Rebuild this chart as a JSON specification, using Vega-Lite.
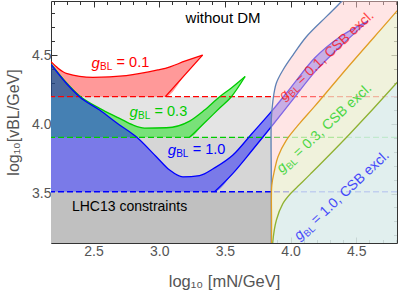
{
  "$schema": "https://vega.github.io/schema/vega-lite/v6.json",
  "width": 346,
  "height": 242,
  "autosize": {"type": "none"},
  "padding": {"left": 51, "top": 1, "right": 1, "bottom": 49},
  "config": {"font": "Liberation Sans", "view": {"stroke": "#333", "strokeWidth": 1}},
  "datasets": {
    "lhc": [
      {"g": "0.1", "y": 4.199, "x0": 2.0, "x1": 3.853, "y0": 3.0},
      {"g": "0.3", "y": 3.906, "x0": 2.0, "x1": 3.853, "y0": 3.0},
      {"g": "1.0", "y": 3.513, "x0": 2.0, "x1": 3.853, "y0": 3.0}
    ],
    "gr": [
      {"g": "0.1", "x": 2.176, "top": 4.452, "bot": 4.199},
      {"g": "0.1", "x": 2.23, "top": 4.405, "bot": 4.199},
      {"g": "0.1", "x": 2.292, "top": 4.368, "bot": 4.199},
      {"g": "0.1", "x": 2.495, "top": 4.339, "bot": 4.199},
      {"g": "0.1", "x": 2.749, "top": 4.352, "bot": 4.199},
      {"g": "0.1", "x": 2.99, "top": 4.392, "bot": 4.199},
      {"g": "0.1", "x": 3.046, "top": 4.404, "bot": 4.199},
      {"g": "0.1", "x": 3.2, "top": 4.457, "bot": 4.362},
      {"g": "0.1", "x": 3.33, "top": 4.5, "bot": 4.5},
      {"g": "0.3", "x": 2.176, "top": 4.436, "bot": 3.906},
      {"g": "0.3", "x": 2.292, "top": 4.302, "bot": 3.906},
      {"g": "0.3", "x": 2.393, "top": 4.206, "bot": 3.906},
      {"g": "0.3", "x": 2.546, "top": 4.115, "bot": 3.906},
      {"g": "0.3", "x": 2.698, "top": 4.043, "bot": 3.906},
      {"g": "0.3", "x": 2.799, "top": 3.995, "bot": 3.906},
      {"g": "0.3", "x": 2.888, "top": 3.973, "bot": 3.906},
      {"g": "0.3", "x": 3.054, "top": 3.975, "bot": 3.906},
      {"g": "0.3", "x": 3.231, "top": 4.023, "bot": 3.906},
      {"g": "0.3", "x": 3.345, "top": 4.103, "bot": 4.011},
      {"g": "0.3", "x": 3.46, "top": 4.199, "bot": 4.117},
      {"g": "0.3", "x": 3.549, "top": 4.262, "bot": 4.199},
      {"g": "0.3", "x": 3.654, "top": 4.345, "bot": 4.345},
      {"g": "1.0", "x": 2.176, "top": 4.432, "bot": 3.513},
      {"g": "1.0", "x": 2.292, "top": 4.296, "bot": 3.513},
      {"g": "1.0", "x": 2.393, "top": 4.199, "bot": 3.513},
      {"g": "1.0", "x": 2.546, "top": 4.103, "bot": 3.513},
      {"g": "1.0", "x": 2.698, "top": 3.995, "bot": 3.513},
      {"g": "1.0", "x": 2.825, "top": 3.91, "bot": 3.513},
      {"g": "1.0", "x": 2.978, "top": 3.766, "bot": 3.513},
      {"g": "1.0", "x": 3.079, "top": 3.67, "bot": 3.513},
      {"g": "1.0", "x": 3.18, "top": 3.621, "bot": 3.513},
      {"g": "1.0", "x": 3.307, "top": 3.63, "bot": 3.513},
      {"g": "1.0", "x": 3.421, "top": 3.685, "bot": 3.513},
      {"g": "1.0", "x": 3.561, "top": 3.778, "bot": 3.646},
      {"g": "1.0", "x": 3.703, "top": 3.93, "bot": 3.807},
      {"g": "1.0", "x": 3.853, "top": 4.091, "bot": 3.982},
      {"g": "1.0", "x": 4.0, "top": 4.263, "bot": 4.158},
      {"g": "1.0", "x": 4.183, "top": 4.478, "bot": 4.377},
      {"g": "1.0", "x": 4.374, "top": 4.63, "bot": 4.558},
      {"g": "1.0", "x": 4.589, "top": 4.745, "bot": 4.745}
    ],
    "csb": [
      {"c": "s", "y": 3.0, "x": 3.853, "xr": 4.9},
      {"c": "s", "y": 3.6, "x": 3.853, "xr": 4.9},
      {"c": "s", "y": 4.031, "x": 3.853, "xr": 4.9},
      {"c": "s", "y": 4.175, "x": 3.866, "xr": 4.9},
      {"c": "s", "y": 4.296, "x": 3.891, "xr": 4.9},
      {"c": "s", "y": 4.392, "x": 3.942, "xr": 4.9},
      {"c": "s", "y": 4.5, "x": 4.018, "xr": 4.9},
      {"c": "s", "y": 4.632, "x": 4.12, "xr": 4.9},
      {"c": "s", "y": 4.777, "x": 4.272, "xr": 4.9},
      {"c": "s", "y": 4.885, "x": 4.386, "xr": 4.9},
      {"c": "s", "y": 4.95, "x": 4.45, "xr": 4.9},
      {"c": "o", "y": 3.0, "x": 3.855, "xr": 4.9},
      {"c": "o", "y": 3.3, "x": 3.855, "xr": 4.9},
      {"c": "o", "y": 3.561, "x": 3.857, "xr": 4.9},
      {"c": "o", "y": 3.67, "x": 3.878, "xr": 4.9},
      {"c": "o", "y": 3.766, "x": 3.904, "xr": 4.9},
      {"c": "o", "y": 3.886, "x": 3.968, "xr": 4.9},
      {"c": "o", "y": 4.007, "x": 4.069, "xr": 4.9},
      {"c": "o", "y": 4.127, "x": 4.181, "xr": 4.9},
      {"c": "o", "y": 4.428, "x": 4.45, "xr": 4.9},
      {"c": "o", "y": 4.813, "x": 4.805, "xr": 4.9},
      {"c": "o", "y": 4.9, "x": 4.88, "xr": 4.9},
      {"c": "v", "y": 3.0, "x": 3.862, "xr": 4.9},
      {"c": "v", "y": 3.145, "x": 3.864, "xr": 4.9},
      {"c": "v", "y": 3.309, "x": 3.892, "xr": 4.9},
      {"c": "v", "y": 3.429, "x": 3.942, "xr": 4.9},
      {"c": "v", "y": 3.5, "x": 4.0, "xr": 4.9},
      {"c": "v", "y": 3.565, "x": 4.07, "xr": 4.9},
      {"c": "v", "y": 3.64, "x": 4.15, "xr": 4.9},
      {"c": "v", "y": 3.93, "x": 4.45, "xr": 4.9},
      {"c": "v", "y": 4.296, "x": 4.805, "xr": 4.9},
      {"c": "v", "y": 4.4, "x": 4.9, "xr": 4.9}
    ],
    "notes": [
      {"x": 3.486, "y": 4.767, "t": "without DM", "s": "a"},
      {"x": 2.774, "y": 3.405, "t": "LHC13 constraints", "s": "b"}
    ],
    "glab": [
      {"g": "0.1", "x": 2.485, "y": 4.442, "val": "= 0.1"},
      {"g": "0.3", "x": 2.774, "y": 4.091, "val": "= 0.3"},
      {"g": "1.0", "x": 3.064, "y": 3.814, "val": "= 1.0"}
    ],
    "csbl": [
      {"g": "0.1", "x": 3.93, "y": 4.19, "val": "= 0.1, CSB excl."},
      {"g": "0.3", "x": 3.912, "y": 3.665, "val": "= 0.3, CSB excl."},
      {"g": "1.0", "x": 4.046, "y": 3.18, "val": "= 1.0, CSB excl."}
    ]
  },
  "layer": [
    {
      "data": {"name": "lhc"},
      "mark": {"type": "rect", "clip": true},
      "encoding": {
        "x": {"field": "x0", "type": "quantitative", "scale": {"domain": [2.176, 4.81], "nice": false, "zero": false},
          "axis": {"orient": "bottom", "values": [2.2,2.3,2.4,2.5,2.6,2.7,2.8,2.9,3.0,3.1,3.2,3.3,3.4,3.5,3.6,3.7,3.8,3.9,4.0,4.1,4.2,4.3,4.4,4.5,4.6,4.7,4.8],
            "labelExpr": "round(datum.value*10)%5==0 ? format(datum.value,'.1f') : ''",
            "tickSize": {"condition": {"test": "round(datum.value*10)%5==0", "value": -6}, "value": -3.5},
            "tickColor": "#333", "domain": false, "grid": false, "labelColor": "#555", "labelFontSize": 14, "labelPadding": 7,
            "labelOverlap": false, "labelFlush": false, "title": "log₁₀ [mN/GeV]", "titleFontSize": 16.5, "titleFontWeight": "normal", "titleColor": "#555", "titlePadding": 13}},
        "x2": {"field": "x1"},
        "y": {"field": "y0", "type": "quantitative", "scale": {"domain": [3.143, 4.89], "nice": false, "zero": false},
          "axis": {"orient": "left", "values": [3.2,3.3,3.4,3.5,3.6,3.7,3.8,3.9,4.0,4.1,4.2,4.3,4.4,4.5,4.6,4.7,4.8],
            "labelExpr": "round(datum.value*10)%5==0 ? format(datum.value,'.1f') : ''",
            "tickSize": {"condition": {"test": "round(datum.value*10)%5==0", "value": -6}, "value": -3.5},
            "tickColor": "#333", "domain": false, "grid": false, "labelColor": "#555", "labelFontSize": 14, "labelPadding": 6,
            "labelOverlap": false, "labelFlush": false, "title": "log₁₀[vBL/GeV]", "titleFontSize": 16, "titleFontWeight": "normal", "titleColor": "#555", "titlePadding": 10}},
        "y2": {"field": "y"},
        "fill": {"field": "g", "type": "nominal", "scale": {"domain": ["0.1", "0.3", "1.0"], "range": ["#e4e4e4", "#d6d6d6", "#c0c0c0"]}, "legend": null}
      }
    },
    {
      "data": {"name": "gr"},
      "transform": [{"filter": "datum.g=='0.1'"}],
      "mark": {"type": "area", "color": "#ff0000", "fillOpacity": 0.4, "clip": true, "interpolate": "monotone"},
      "encoding": {
        "x": {"field": "x", "type": "quantitative", "scale": {"domain": [2.176, 4.81], "nice": false, "zero": false}, "axis": null},
        "y": {"field": "top", "type": "quantitative", "scale": {"domain": [3.143, 4.89], "nice": false, "zero": false}, "axis": null},
        "y2": {"field": "bot"}
      }
    },
    {
      "data": {"name": "gr"},
      "transform": [{"filter": "datum.g=='0.3'"}],
      "mark": {"type": "area", "color": "#00dd00", "fillOpacity": 0.47, "clip": true, "interpolate": "monotone"},
      "encoding": {
        "x": {"field": "x", "type": "quantitative", "scale": {"domain": [2.176, 4.81], "nice": false, "zero": false}, "axis": null},
        "y": {"field": "top", "type": "quantitative", "scale": {"domain": [3.143, 4.89], "nice": false, "zero": false}, "axis": null},
        "y2": {"field": "bot"}
      }
    },
    {
      "data": {"name": "gr"},
      "transform": [{"filter": "datum.g=='1.0'"}],
      "mark": {"type": "area", "color": "#0000ff", "fillOpacity": 0.43, "clip": true, "interpolate": "monotone"},
      "encoding": {
        "x": {"field": "x", "type": "quantitative", "scale": {"domain": [2.176, 4.81], "nice": false, "zero": false}, "axis": null},
        "y": {"field": "top", "type": "quantitative", "scale": {"domain": [3.143, 4.89], "nice": false, "zero": false}, "axis": null},
        "y2": {"field": "bot"}
      }
    },
    {
      "data": {"name": "lhc"},
      "mark": {"type": "rule", "strokeDash": [6, 3], "strokeWidth": 1.3},
      "encoding": {
        "y": {"field": "y", "type": "quantitative", "scale": {"domain": [3.143, 4.89], "nice": false, "zero": false}, "axis": null},
        "color": {"field": "g", "type": "nominal", "scale": {"domain": ["0.1", "0.3", "1.0"], "range": ["#ff0000", "#00cc00", "#0000ff"]}, "legend": null}
      }
    },
    {
      "data": {"name": "gr"},
      "mark": {"type": "line", "strokeWidth": 1.3, "clip": true, "interpolate": "monotone"},
      "encoding": {
        "x": {"field": "x", "type": "quantitative", "scale": {"domain": [2.176, 4.81], "nice": false, "zero": false}, "axis": null},
        "y": {"field": "top", "type": "quantitative", "scale": {"domain": [3.143, 4.89], "nice": false, "zero": false}, "axis": null},
        "color": {"field": "g", "type": "nominal", "scale": {"domain": ["0.1", "0.3", "1.0"], "range": ["#ff0000", "#00cc00", "#0000ff"]}, "legend": null}
      }
    },
    {
      "data": {"name": "gr"},
      "transform": [{"filter": "(datum.g=='0.1' && datum.x>=3.046) || (datum.g=='0.3' && datum.x>=3.231) || (datum.g=='1.0' && datum.x>=3.421)"}],
      "mark": {"type": "line", "strokeWidth": 1.3, "clip": true, "interpolate": "monotone"},
      "encoding": {
        "x": {"field": "x", "type": "quantitative", "scale": {"domain": [2.176, 4.81], "nice": false, "zero": false}, "axis": null},
        "y": {"field": "bot", "type": "quantitative", "scale": {"domain": [3.143, 4.89], "nice": false, "zero": false}, "axis": null},
        "color": {"field": "g", "type": "nominal", "scale": {"domain": ["0.1", "0.3", "1.0"], "range": ["#ff0000", "#00cc00", "#0000ff"]}, "legend": null}
      }
    },
    {
      "data": {"name": "csb"},
      "transform": [{"filter": "datum.c=='s'"}],
      "mark": {"type": "area", "orient": "horizontal", "color": "#ffcccc", "fillOpacity": 0.5, "clip": true, "interpolate": "catmull-rom"},
      "encoding": {
        "y": {"field": "y", "type": "quantitative", "scale": {"domain": [3.143, 4.89], "nice": false, "zero": false}, "axis": null},
        "x": {"field": "x", "type": "quantitative", "scale": {"domain": [2.176, 4.81], "nice": false, "zero": false}, "axis": null},
        "x2": {"field": "xr"}
      }
    },
    {
      "data": {"name": "csb"},
      "transform": [{"filter": "datum.c=='o'"}],
      "mark": {"type": "area", "orient": "horizontal", "color": "#e1ffd4", "fillOpacity": 0.5, "clip": true, "interpolate": "catmull-rom"},
      "encoding": {
        "y": {"field": "y", "type": "quantitative", "scale": {"domain": [3.143, 4.89], "nice": false, "zero": false}, "axis": null},
        "x": {"field": "x", "type": "quantitative", "scale": {"domain": [2.176, 4.81], "nice": false, "zero": false}, "axis": null},
        "x2": {"field": "xr"}
      }
    },
    {
      "data": {"name": "csb"},
      "transform": [{"filter": "datum.c=='v'"}],
      "mark": {"type": "area", "orient": "horizontal", "color": "#d2ebff", "fillOpacity": 0.5, "clip": true, "interpolate": "catmull-rom"},
      "encoding": {
        "y": {"field": "y", "type": "quantitative", "scale": {"domain": [3.143, 4.89], "nice": false, "zero": false}, "axis": null},
        "x": {"field": "x", "type": "quantitative", "scale": {"domain": [2.176, 4.81], "nice": false, "zero": false}, "axis": null},
        "x2": {"field": "xr"}
      }
    },
    {
      "data": {"name": "csb"},
      "mark": {"type": "line", "strokeWidth": 1.3, "clip": true, "interpolate": "catmull-rom"},
      "encoding": {
        "x": {"field": "x", "type": "quantitative", "scale": {"domain": [2.176, 4.81], "nice": false, "zero": false}, "axis": null},
        "y": {"field": "y", "type": "quantitative", "scale": {"domain": [3.143, 4.89], "nice": false, "zero": false}, "axis": null},
        "order": {"field": "y", "type": "quantitative"},
        "stroke": {"field": "c", "type": "nominal", "scale": {"domain": ["s", "o", "v"], "range": ["#5e81b5", "#e19c24", "#8fb131"]}, "legend": null}
      }
    },
    {
      "data": {"name": "notes"},
      "mark": {"type": "text", "color": "#000", "align": "center", "baseline": "middle"},
      "encoding": {
        "x": {"field": "x", "type": "quantitative", "scale": {"domain": [2.176, 4.81], "nice": false, "zero": false},
          "axis": {"orient": "top", "values": [2.2,2.3,2.4,2.5,2.6,2.7,2.8,2.9,3.0,3.1,3.2,3.3,3.4,3.5,3.6,3.7,3.8,3.9,4.0,4.1,4.2,4.3,4.4,4.5,4.6,4.7,4.8],
            "labels": false, "tickSize": {"condition": {"test": "round(datum.value*10)%5==0", "value": -6}, "value": -3.5},
            "tickColor": "#333", "domain": false, "grid": false, "title": null}},
        "y": {"field": "y", "type": "quantitative", "scale": {"domain": [3.143, 4.89], "nice": false, "zero": false},
          "axis": {"orient": "right", "values": [3.2,3.3,3.4,3.5,3.6,3.7,3.8,3.9,4.0,4.1,4.2,4.3,4.4,4.5,4.6,4.7,4.8],
            "labels": false, "tickSize": {"condition": {"test": "round(datum.value*10)%5==0", "value": -6}, "value": -3.5},
            "tickColor": "#333", "domain": false, "grid": false, "title": null}},
        "size": {"field": "s", "type": "nominal", "scale": {"domain": ["a", "b"], "range": [15, 14]}, "legend": null},
        "text": {"field": "t"}
      }
    },
    {
      "data": {"name": "glab"},
      "mark": {"type": "text", "fontSize": 15, "fontStyle": "italic", "align": "left", "baseline": "middle", "text": "g"},
      "encoding": {
        "x": {"field": "x", "type": "quantitative", "scale": {"domain": [2.176, 4.81], "nice": false, "zero": false}, "axis": null},
        "y": {"field": "y", "type": "quantitative", "scale": {"domain": [3.143, 4.89], "nice": false, "zero": false}, "axis": null},
        "color": {"field": "g", "type": "nominal", "scale": {"domain": ["0.1", "0.3", "1.0"], "range": ["#ff0000", "#00cc00", "#0000ff"]}, "legend": null}
      }
    },
    {
      "data": {"name": "glab"},
      "mark": {"type": "text", "fontSize": 10, "align": "left", "baseline": "middle", "text": "BL", "dx": 8.5, "dy": 4},
      "encoding": {
        "x": {"field": "x", "type": "quantitative", "scale": {"domain": [2.176, 4.81], "nice": false, "zero": false}, "axis": null},
        "y": {"field": "y", "type": "quantitative", "scale": {"domain": [3.143, 4.89], "nice": false, "zero": false}, "axis": null},
        "color": {"field": "g", "type": "nominal", "scale": {"domain": ["0.1", "0.3", "1.0"], "range": ["#ff0000", "#00cc00", "#0000ff"]}, "legend": null}
      }
    },
    {
      "data": {"name": "glab"},
      "mark": {"type": "text", "fontSize": 14.5, "align": "left", "baseline": "middle", "dx": 25},
      "encoding": {
        "x": {"field": "x", "type": "quantitative", "scale": {"domain": [2.176, 4.81], "nice": false, "zero": false}, "axis": null},
        "y": {"field": "y", "type": "quantitative", "scale": {"domain": [3.143, 4.89], "nice": false, "zero": false}, "axis": null},
        "text": {"field": "val"},
        "color": {"field": "g", "type": "nominal", "scale": {"domain": ["0.1", "0.3", "1.0"], "range": ["#ff0000", "#00cc00", "#0000ff"]}, "legend": null}
      }
    },
    {
      "data": {"name": "csbl"},
      "mark": {"type": "text", "fontSize": 14, "fontStyle": "italic", "align": "left", "baseline": "middle", "text": "g", "angle": -43, "opacity": 0.7},
      "encoding": {
        "x": {"field": "x", "type": "quantitative", "scale": {"domain": [2.176, 4.81], "nice": false, "zero": false}, "axis": null},
        "y": {"field": "y", "type": "quantitative", "scale": {"domain": [3.143, 4.89], "nice": false, "zero": false}, "axis": null},
        "color": {"field": "g", "type": "nominal", "scale": {"domain": ["0.1", "0.3", "1.0"], "range": ["#ff0000", "#00cc00", "#0000ff"]}, "legend": null}
      }
    },
    {
      "data": {"name": "csbl"},
      "mark": {"type": "text", "fontSize": 9.5, "align": "left", "baseline": "middle", "text": "BL", "dx": 8, "dy": 4, "angle": -43, "opacity": 0.7},
      "encoding": {
        "x": {"field": "x", "type": "quantitative", "scale": {"domain": [2.176, 4.81], "nice": false, "zero": false}, "axis": null},
        "y": {"field": "y", "type": "quantitative", "scale": {"domain": [3.143, 4.89], "nice": false, "zero": false}, "axis": null},
        "color": {"field": "g", "type": "nominal", "scale": {"domain": ["0.1", "0.3", "1.0"], "range": ["#ff0000", "#00cc00", "#0000ff"]}, "legend": null}
      }
    },
    {
      "data": {"name": "csbl"},
      "mark": {"type": "text", "fontSize": 14, "align": "left", "baseline": "middle", "dx": 23, "angle": -43, "opacity": 0.7},
      "encoding": {
        "x": {"field": "x", "type": "quantitative", "scale": {"domain": [2.176, 4.81], "nice": false, "zero": false}, "axis": null},
        "y": {"field": "y", "type": "quantitative", "scale": {"domain": [3.143, 4.89], "nice": false, "zero": false}, "axis": null},
        "text": {"field": "val"},
        "color": {"field": "g", "type": "nominal", "scale": {"domain": ["0.1", "0.3", "1.0"], "range": ["#ff0000", "#00cc00", "#0000ff"]}, "legend": null}
      }
    }
  ]
}
